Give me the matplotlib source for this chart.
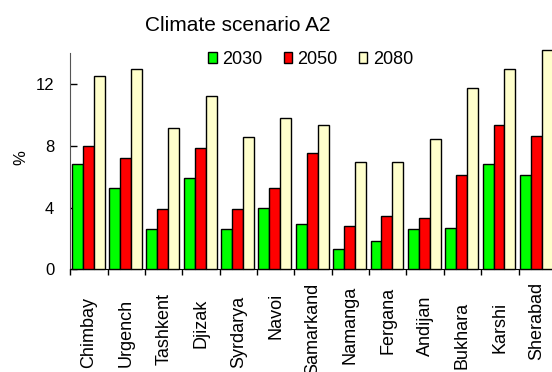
import numpy as np
import matplotlib
matplotlib.use("Agg")
import matplotlib.pyplot as plt
import matplotlib.transforms as mtransforms
from matplotlib.patches import Patch

plt.rcParams["font.family"] = ["Liberation Sans", "DejaVu Sans"]

# data
stations = ["Chimbay", "Urgench", "Tashkent", "Djizak", "Syrdarya", "Navoi",
            "Samarkand", "Namanga", "Fergana", "Andijan", "Bukhara", "Karshi",
            "Sherabad"]
years = ["2030", "2050", "2080"]
v2030 = [6.8, 5.3, 2.6, 5.9, 2.6, 4.0, 2.95, 1.3, 1.85, 2.6, 2.7, 6.8, 6.1]
v2050 = [8.0, 7.2, 3.9, 7.85, 3.9, 5.3, 7.55, 2.8, 3.45, 3.35, 6.1, 9.37, 8.65]
v2080 = [12.55, 12.97, 9.17, 11.22, 8.6, 9.82, 9.37, 6.98, 6.98, 8.42, 11.77, 12.97, 14.2]
yticks = [0, 4, 8, 12]
colors = ["#00ff00", "#ff0000", "#ffffcc"]

# the station names in the original do not line up; pixel row of each name's top end
label_top = [297, 299, 293, 299, 296, 293, 283, 286, 287, 296, 302, 302, 282]

W, H = 552, 372
fig = plt.figure(figsize=(W / 100, H / 100), dpi=100)
# axes box in pixels (left, bottom, right, top); right edge runs past the canvas
left, right, top, bottom = 70.3, 70.3 + 13 * 37.35, 52.7, 269.3
ax = fig.add_axes([left / W, 1 - bottom / H, (right - left) / W, (bottom - top) / H])

x = np.arange(len(stations))
bw = 0.293
for i, (vals, c) in enumerate(zip([v2030, v2050, v2080], colors)):
    ax.bar(x - 0.022 + (i - 1) * bw, vals, width=bw, color=c,
           edgecolor="black", linewidth=1.0, clip_on=False, zorder=3)

ax.set_xlim(-0.5, len(stations) - 0.5)
ax.set_ylim(0, 14.04)

# labels at category centres, tick marks at category boundaries
ax.set_xticks(x)
ax.set_xticklabels(stations, rotation=90, fontsize=13, va="top")
ax.tick_params(axis="x", which="major", length=0, pad=17)
ax.set_xticks(np.arange(len(stations) + 1) - 0.5, minor=True)
ax.tick_params(axis="x", which="minor", length=4, direction="out", width=1)
base_top = 293
for lab, t in zip(ax.get_xticklabels(), label_top):
    shift = mtransforms.ScaledTranslation(0, -(t - base_top) / 100, fig.dpi_scale_trans)
    lab.set_transform(lab.get_transform() + shift)

ax.set_yticks(yticks)
ax.set_yticklabels([str(t) for t in yticks], fontsize=12)
ax.tick_params(axis="y", direction="in", length=5, width=1, pad=11.5)

for s in ["top", "right"]:
    ax.spines[s].set_visible(False)
ax.spines["left"].set_color("#555555")
ax.spines["bottom"].set_color("black")

fig.text(20.7 / W, 1 - 158 / H, "%", rotation=90, fontsize=12,
         ha="center", va="center")
fig.text(237.8 / W, 1 - 30.7 / H, "Climate scenario A2", fontsize=15,
         ha="center", va="baseline")

handles = [Patch(facecolor=c, edgecolor="black", linewidth=1) for c in colors]
fig.legend(handles, years, loc="center", ncol=3, frameon=False, fontsize=13,
           bbox_to_anchor=(310.8 / W, 1 - 59.3 / H), bbox_transform=fig.transFigure,
           handlelength=0.45, handleheight=0.6, handletextpad=0.3,
           columnspacing=1.2, borderpad=0, borderaxespad=0)

fig.savefig("out.png", dpi=100)
